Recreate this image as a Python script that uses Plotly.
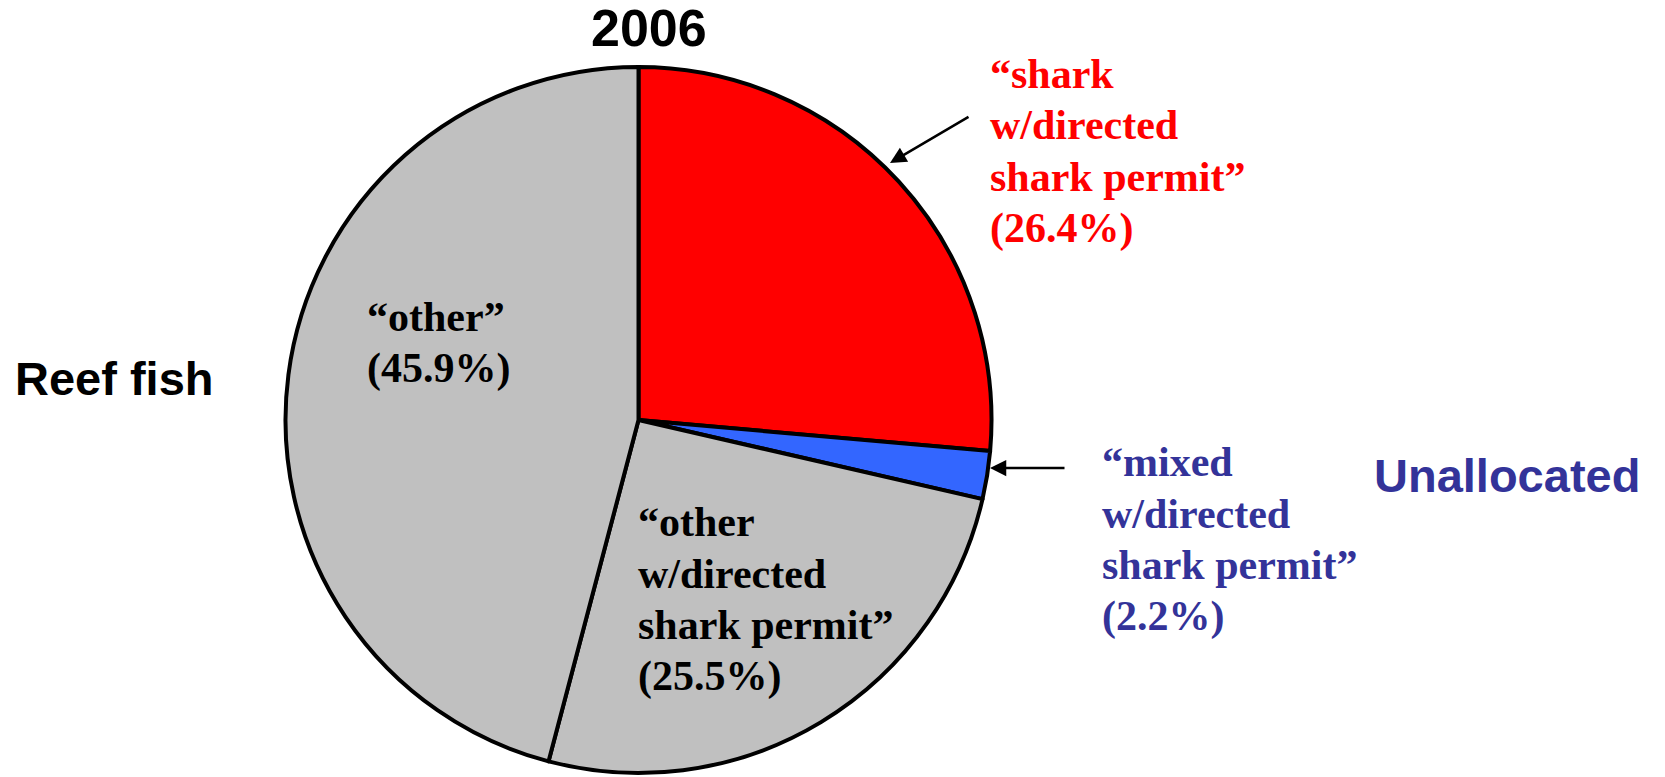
import plotly.graph_objects as go

W, H = 1665, 777

categories = ["shark w/directed shark permit", "mixed w/directed shark permit",
              "other w/directed shark permit", "other"]
values = [26.4, 2.2, 25.5, 45.9]
colors = ["#FF0000", "#3366FF", "#C0C0C0", "#C0C0C0"]

label_lines = [
    ["\u201cshark", "w/directed", "shark permit\u201d", "(26.4%)"],
    ["\u201cmixed", "w/directed", "shark permit\u201d", "(2.2%)"],
    ["\u201cother", "w/directed", "shark permit\u201d", "(25.5%)"],
    ["\u201cother\u201d", "(45.9%)"],
]
label_colors = ["#FF0000", "#333399", "#000000", "#000000"]
label_left = [988, 1100, 636, 365]
label_first_y = [74, 462, 522, 317]
line_step = 51.5

title_text = "2006"
left_text = "Reef fish"
right_text = "Unallocated"


def px(x):
    return x / W


def py(y):
    return 1 - y / H


cx, cy, r = 638.5, 420, 353

fig = go.Figure(go.Pie(
    labels=categories,
    values=values,
    sort=False,
    direction="clockwise",
    rotation=0,
    marker=dict(colors=colors, line=dict(color="#000000", width=4)),
    textinfo="none",
    hoverinfo="label+percent",
    showlegend=False,
    domain=dict(x=[px(cx - r), px(cx + r)], y=[py(cy + r), py(cy - r)]),
))

serif = "Liberation Serif, Times New Roman, serif"
sans = "Liberation Sans, Arial, sans-serif"

annotations = []
for lines, col, lx, ly0 in zip(label_lines, label_colors, label_left, label_first_y):
    for i, line in enumerate(lines):
        annotations.append(dict(
            text="<b>" + line + "</b>", x=px(lx), y=py(ly0 + i * line_step),
            xref="paper", yref="paper",
            xanchor="left", yanchor="middle", align="left", showarrow=False,
            font=dict(family=serif, size=42, color=col),
        ))

annotations += [
    dict(text="<b>" + title_text + "</b>", x=px(649), y=py(28), xref="paper", yref="paper",
         xanchor="center", yanchor="middle", showarrow=False,
         font=dict(family=sans, size=52, color="#000000")),
    dict(text="<b>" + left_text + "</b>", x=px(13), y=py(378), xref="paper", yref="paper",
         xanchor="left", yanchor="middle", showarrow=False,
         font=dict(family=sans, size=47, color="#000000")),
    dict(text="<b>" + right_text + "</b>", x=px(1372), y=py(475), xref="paper", yref="paper",
         xanchor="left", yanchor="middle", showarrow=False,
         font=dict(family=sans, size=47, color="#333399")),
    # arrows
    dict(text="", x=px(890), y=py(163), xref="paper", yref="paper",
         ax=970 - 890, ay=116 - 163, axref="pixel", ayref="pixel",
         showarrow=True, arrowhead=2, arrowsize=1.3, arrowwidth=2.5, arrowcolor="#000000",
         standoff=0, startstandoff=0),
    dict(text="", x=px(990), y=py(468), xref="paper", yref="paper",
         ax=1066 - 990, ay=0, axref="pixel", ayref="pixel",
         showarrow=True, arrowhead=2, arrowsize=1.3, arrowwidth=2.5, arrowcolor="#000000",
         standoff=0, startstandoff=0),
]

fig.update_layout(
    width=W, height=H,
    margin=dict(l=0, r=0, t=0, b=0),
    paper_bgcolor="#FFFFFF",
    plot_bgcolor="#FFFFFF",
    annotations=annotations,
)

fig.write_html("out.html",
               config={"displayModeBar": False},
               post_script="document.body.style.margin='0';document.body.style.padding='0';")
